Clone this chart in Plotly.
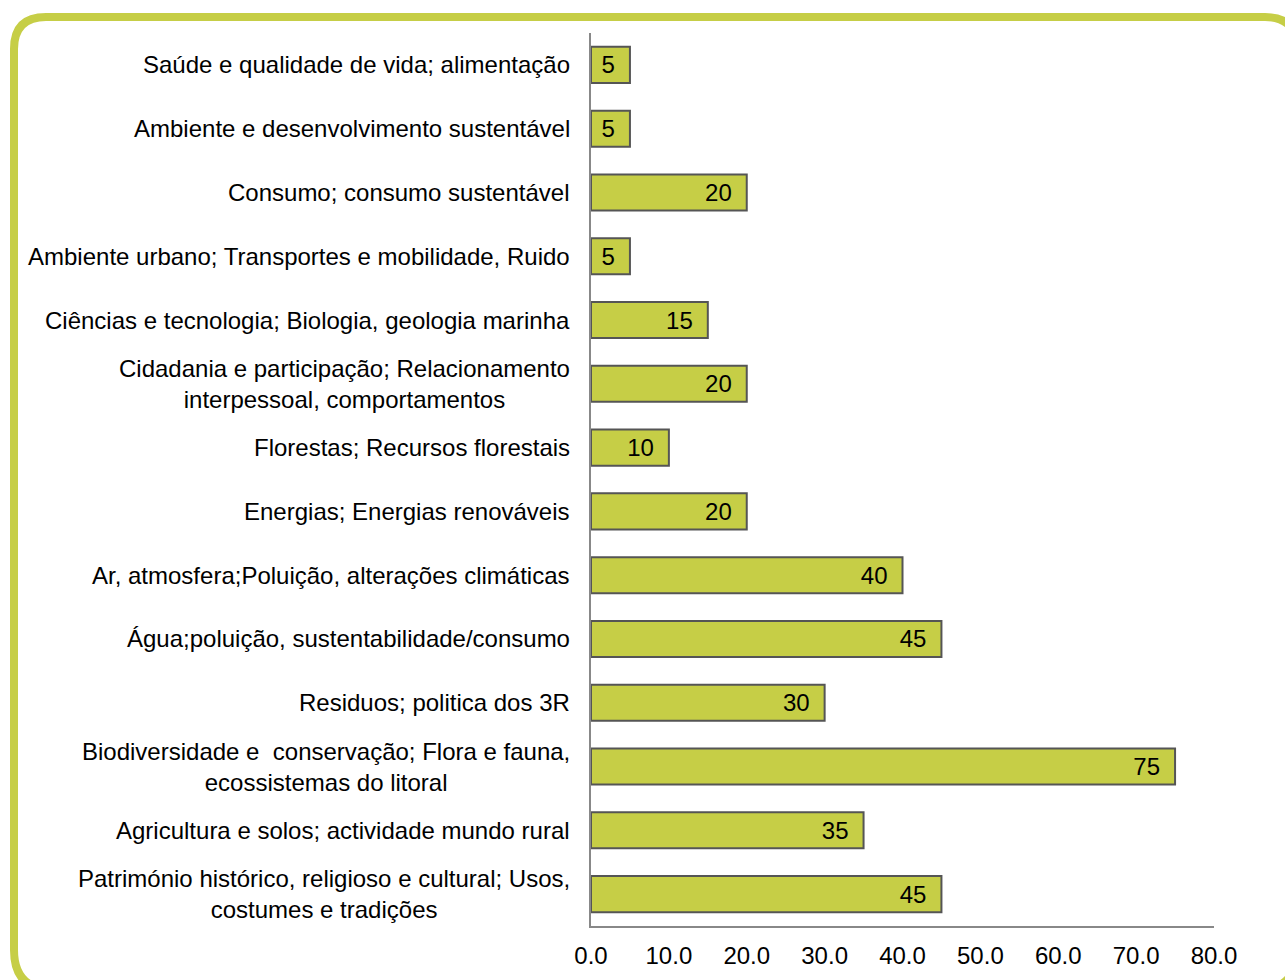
import plotly.graph_objects as go

# categories listed top to bottom, as in the chart
categories = [
    "Saúde e qualidade de vida; alimentação",
    "Ambiente e desenvolvimento sustentável",
    "Consumo; consumo sustentável",
    "Ambiente urbano; Transportes e mobilidade, Ruido",
    "Ciências e tecnologia; Biologia, geologia marinha",
    "Cidadania e participação; Relacionamento<br>interpessoal, comportamentos",
    "Florestas; Recursos florestais",
    "Energias; Energias renováveis",
    "Ar, atmosfera;Poluição, alterações climáticas",
    "Água;poluição, sustentabilidade/consumo",
    "Residuos; politica dos 3R",
    "Biodiversidade e  conservação; Flora e fauna,<br>ecossistemas do litoral",
    "Agricultura e solos; actividade mundo rural",
    "Património histórico, religioso e cultural; Usos,<br>costumes e tradições",
]
values = [5, 5, 20, 5, 15, 20, 10, 20, 40, 45, 30, 75, 35, 45]
x_ticks = [0, 10, 20, 30, 40, 50, 60, 70, 80]

FONT = "Liberation Sans, Arial, sans-serif"
FS = 24
BAR = "#C6CE46"

W, H = 1285, 980
ML, MR, MT, MB = 591, 71, 33, 54

fig = go.Figure(go.Bar(
    y=categories,
    x=values,
    text=[str(v) for v in values],
    orientation="h",
    marker=dict(color=BAR, line=dict(color="#555555", width=2)),
    texttemplate="%{text}\u2002",
    textposition="inside",
    insidetextanchor="end",
    textfont=dict(family=FONT, size=FS, color="black"),
    constraintext="none",
))

# category labels (centered multi-line, right aligned to the axis)
for c in categories:
    fig.add_annotation(
        x=0, xref="paper", y=c, yref="y",
        text=c, showarrow=False, xanchor="right", align="center",
        xshift=-19, font=dict(family=FONT, size=FS, color="black"),
    )

# rounded frame around the chart, in pixels converted to paper coords
pw, ph = W - ML - MR, H - MT - MB
def px(x):
    return (x - ML) / pw
def py(y):
    return (H - MB - y) / ph

L, T, R, B = 14, 17, 1297, 990
rt, rb = 32, 40
path = (
    f"M {px(L)},{py(T + rt)} Q {px(L)},{py(T)} {px(L + rt)},{py(T)} "
    f"L {px(R - rt)},{py(T)} Q {px(R)},{py(T)} {px(R)},{py(T + rt)} "
    f"L {px(R)},{py(B - rb)} Q {px(R)},{py(B)} {px(R - rb)},{py(B)} "
    f"L {px(L + rb)},{py(B)} Q {px(L)},{py(B)} {px(L)},{py(B - rb)} Z"
)
fig.add_shape(type="path", path=path, xref="paper", yref="paper",
              line=dict(color="#C6CE46", width=8), layer="below")

fig.update_layout(
    width=W, height=H,
    margin=dict(l=ML, r=MR, t=MT, b=MB),
    paper_bgcolor="white", plot_bgcolor="white",
    showlegend=False,
    bargap=0.435,
    font=dict(family=FONT, size=FS, color="black"),
    xaxis=dict(
        range=[0, 80], tickvals=x_ticks, tickformat=".1f",
        showgrid=False, zeroline=False, showline=True,
        linecolor="#888888", linewidth=2, ticks="",
        ticklabelstandoff=7,
        tickfont=dict(family=FONT, size=FS, color="black"),
    ),
    yaxis=dict(
        autorange="reversed", showticklabels=False, showgrid=False,
        showline=True, linecolor="#888888", linewidth=2, ticks="",
        zeroline=False,
    ),
)

fig.write_html("out.html", config={"displayModeBar": False},
               post_script="document.body.style.margin='0px';")
